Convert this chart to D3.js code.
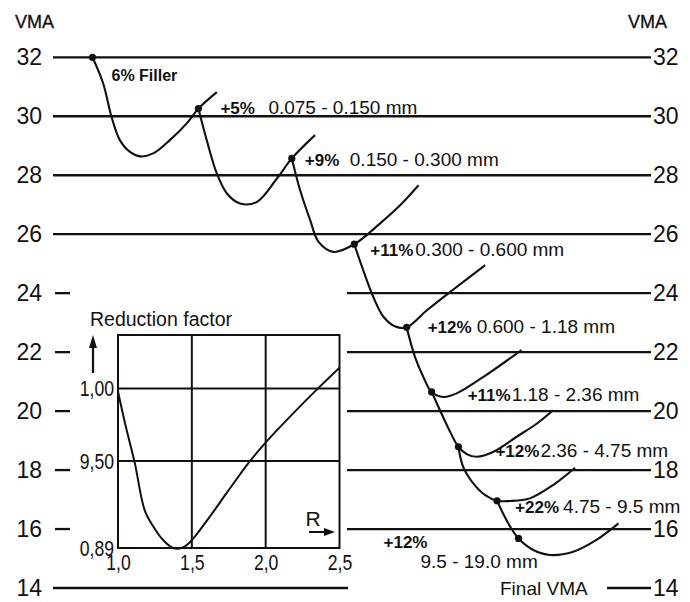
<!DOCTYPE html>
<html>
<head>
<meta charset="utf-8">
<script src="https://cdn.jsdelivr.net/npm/d3@7"></script>
<style>
  body { margin: 0; background: #fff; }
  svg { display: block; }
  text { font-family: "Liberation Sans", Arial, Helvetica, sans-serif; fill: #111; }
</style>
</head>
<body>
<svg id="chart" width="690" height="602"></svg>
<script>
// ---- VMA gridlines ----
const vmaTicks   = [32, 30, 28, 26, 24, 22, 20, 18, 16, 14];
const fullLines  = [32, 30, 28, 26];          // lines across the whole width
const splitLines = [24, 22, 20, 18, 16];      // short stub left, segment right of the inset

// ---- Blending curves: x = mixing progress (0-100), y = VMA ----
const step1X   = [6.3, 8.1, 9.5, 10.9, 12.6, 14.3, 16.5, 19.3, 22.1, 24.1, 27.2];
const step1VMA = [32.0, 31.11, 29.98, 29.19, 28.79, 28.64, 28.74, 29.19, 29.75, 30.26, 30.82];
const step2X   = [24.1, 25.5, 27.2, 28.9, 31.1, 33.9, 37.3, 39.8, 43.7];
const step2VMA = [30.26, 29.19, 28.06, 27.38, 27.04, 27.09, 27.89, 28.57, 29.36];
const step3X   = [39.8, 41.2, 42.9, 44.3, 46.8, 50.3, 54.6, 58.0, 61.1];
const step3VMA = [28.57, 27.49, 26.47, 25.74, 25.40, 25.66, 26.36, 26.98, 27.66];
const step4X   = [50.3, 51.8, 53.5, 55.2, 57.1, 59.1, 62.5, 66.4, 72.3];
const step4VMA = [25.66, 24.78, 23.87, 23.20, 22.88, 22.84, 23.42, 24.04, 24.95];
const step5X   = [59.1, 60.5, 61.9, 63.3, 65.3, 67.5, 72.0, 78.4];
const step5VMA = [22.84, 21.84, 21.16, 20.65, 20.48, 20.60, 21.16, 22.07];
const step6X   = [63.3, 64.7, 66.4, 67.8, 69.2, 70.9, 73.7, 77.6, 81.0, 83.7];
const step6VMA = [20.65, 20.03, 19.30, 18.79, 18.54, 18.45, 18.62, 19.13, 19.58, 20.03];
const step7X   = [67.8, 68.6, 70.3, 72.3, 74.3, 76.5, 79.8, 83.7, 87.4];
const step7VMA = [18.79, 18.11, 17.55, 17.15, 16.96, 16.95, 17.04, 17.49, 18.08];
const step8X   = [74.3, 75.3, 76.5, 77.9, 80.4, 83.2, 87.1, 91.0, 94.7];
const step8VMA = [16.96, 16.53, 16.08, 15.68, 15.29, 15.12, 15.23, 15.63, 16.19];

// ---- Blend points (VMA after each addition) ----
const pointX   = [6.3, 24.1, 39.8, 50.3, 59.1, 63.3, 67.8, 74.3, 77.9];
const pointVMA = [32.0, 30.26, 28.57, 25.66, 22.84, 20.65, 18.79, 16.96, 15.68];

// ---- Fraction annotations ----
const addLabels  = ["6% Filler", "+5%", "+9%", "+11%", "+12%", "+11%", "+12%", "+22%", "+12%"];
const sizeLabels = ["", "0.075 - 0.150 mm", "0.150 - 0.300 mm", "0.300 - 0.600 mm",
                    "0.600 - 1.18 mm", "1.18 - 2.36 mm", "2.36 - 4.75 mm", "4.75 - 9.5 mm",
                    "9.5 - 19.0 mm"];

// ---- Inset: reduction factor vs R ----
const insetR      = [1.0, 1.05, 1.113, 1.181, 1.238, 1.305, 1.373, 1.43, 1.487, 1.622, 1.736, 1.883, 2.007, 2.211, 2.358, 2.5];
const insetFactor = [0.998, 0.975, 0.949, 0.916, 0.905, 0.8955, 0.890, 0.890, 0.894, 0.9117, 0.928, 0.9486, 0.9636, 0.9855, 1.0005, 1.0144];
const insetXTicks  = [1.0, 1.5, 2.0, 2.5];
const insetXLabels = ["1,0", "1,5", "2,0", "2,5"];
const insetYTicks  = [0.89, 0.95, 1.00];
const insetYLabels = ["0,89", "9,50", "1,00"];

// =====================================================================
const svg = d3.select("#chart");
const ink = "#111";

const x = d3.scaleLinear().domain([0, 100]).range([55, 650]);
const y = d3.scaleLinear().domain([14, 32]).range([588, 57.3]);

const gridLeft = 53, gridRight = 651;
const insetRight = 347;

// gridlines
const grid = svg.append("g").attr("stroke", ink).attr("stroke-width", 2.3);
fullLines.forEach(v => grid.append("line")
  .attr("x1", gridLeft).attr("x2", gridRight).attr("y1", y(v)).attr("y2", y(v)));
splitLines.forEach(v => {
  grid.append("line").attr("x1", 55).attr("x2", 70).attr("y1", y(v)).attr("y2", y(v));
  grid.append("line").attr("x1", insetRight).attr("x2", gridRight).attr("y1", y(v)).attr("y2", y(v));
});
grid.append("line").attr("x1", gridLeft).attr("x2", 348).attr("y1", y(14)).attr("y2", y(14));
grid.append("line").attr("x1", 607).attr("x2", gridRight).attr("y1", y(14)).attr("y2", y(14));

// VMA axes on both sides
function styleAxis(g, size) {
  g.select(".domain").remove();
  g.selectAll(".tick line").remove();
  g.selectAll("text").attr("font-size", size).attr("fill", ink)
    .style("font-family", '"Liberation Sans", Arial, sans-serif');
}
svg.append("g").attr("transform", `translate(${gridLeft},0)`)
  .call(d3.axisLeft(y).tickValues(vmaTicks).tickSize(0).tickPadding(11).tickFormat(d3.format("d")))
  .call(g => styleAxis(g, 23));
svg.append("g").attr("transform", `translate(${gridRight},0)`)
  .call(d3.axisRight(y).tickValues(vmaTicks).tickSize(0).tickPadding(2).tickFormat(d3.format("d")))
  .call(g => styleAxis(g, 23));

svg.append("text").attr("x", 15).attr("y", 28).attr("font-size", 18).attr("stroke", ink).attr("stroke-width", 0.3).text("VMA");
svg.append("text").attr("x", 628).attr("y", 28).attr("font-size", 18).attr("stroke", ink).attr("stroke-width", 0.3).text("VMA");
svg.append("text").attr("x", 500).attr("y", y(14) + 6.5).attr("font-size", 19).text("Final VMA");

// blending curves
const line = d3.line()
  .x(d => x(d[0])).y(d => y(d[1]))
  .curve(d3.curveCatmullRom.alpha(0.5));
const steps = [
  [step1X, step1VMA], [step2X, step2VMA], [step3X, step3VMA], [step4X, step4VMA],
  [step5X, step5VMA], [step6X, step6VMA], [step7X, step7VMA], [step8X, step8VMA]
];
svg.append("g").selectAll("path").data(steps).join("path")
  .attr("d", s => line(d3.zip(s[0], s[1])))
  .attr("fill", "none").attr("stroke", ink).attr("stroke-width", 2.1)
  .attr("stroke-linejoin", "round");

// blend points
svg.append("g").selectAll("circle").data(d3.zip(pointX, pointVMA)).join("circle")
  .attr("cx", d => x(d[0])).attr("cy", d => y(d[1])).attr("r", 3.6).attr("fill", ink);

// annotation placement relative to each point: [dx add, baseline dy, dx size]
const labelOffsets = [
  [19, 24, 0], [22, 5, 70], [13, 8, 58], [16, 12, 61], [21, 6, 70],
  [36, 9, 80], [37, 10, 82], [18, 12, 66], [-135, 10, -98]
];
const ann = svg.append("g");
labelOffsets.forEach((o, i) => {
  const px = x(pointX[i]), py = y(pointVMA[i]);
  ann.append("text").attr("x", px + o[0]).attr("y", py + o[1])
    .attr("font-size", i === 0 ? 16 : 17).attr("font-weight", "bold").text(addLabels[i]);
  if (sizeLabels[i]) {
    const sy = i === 8 ? py + 30 : py + o[1];
    ann.append("text").attr("x", px + o[2]).attr("y", sy)
      .attr("font-size", 19).text(sizeLabels[i]);
  }
});

// ---- Inset chart ----
const ix = d3.scaleLinear().domain([1.0, 2.5]).range([118, 339.5]);
const iy = d3.scaleLinear().domain([0.89, 1.037]).range([548, 335]);
const inset = svg.append("g");

inset.append("g").attr("stroke", ink).attr("stroke-width", 2)
  .call(g => {
    g.selectAll(".v").data(insetXTicks.slice(1, -1)).join("line").attr("class", "v")
      .attr("x1", d => ix(d)).attr("x2", d => ix(d)).attr("y1", iy.range()[1]).attr("y2", iy.range()[0]);
    g.selectAll(".h").data(insetYTicks.slice(1)).join("line").attr("class", "h")
      .attr("y1", d => iy(d)).attr("y2", d => iy(d)).attr("x1", ix.range()[0]).attr("x2", ix.range()[1]);
  });
inset.append("rect")
  .attr("x", ix.range()[0]).attr("y", iy.range()[1])
  .attr("width", ix.range()[1] - ix.range()[0]).attr("height", iy.range()[0] - iy.range()[1])
  .attr("fill", "none").attr("stroke", ink).attr("stroke-width", 2);

inset.append("path")
  .attr("d", d3.line().x(d => ix(d[0])).y(d => iy(d[1])).curve(d3.curveCatmullRom.alpha(0.5))(d3.zip(insetR, insetFactor)))
  .attr("fill", "none").attr("stroke", ink).attr("stroke-width", 2);

// inset axes, condensed numerals
function styleInsetAxis(g) {
  g.select(".domain").remove();
  g.selectAll("text").attr("font-size", 22).attr("fill", ink)
    .attr("transform", "scale(0.8,1)")
    .style("font-family", '"Liberation Sans", Arial, sans-serif');
}
inset.append("g").attr("transform", `translate(0,${iy.range()[0] + 1})`)
  .call(d3.axisBottom(ix).tickValues(insetXTicks).tickSize(0).tickPadding(5)
    .tickFormat((d, i) => insetXLabels[i]))
  .call(styleInsetAxis);
inset.append("g").attr("transform", `translate(${ix.range()[0]},0)`)
  .call(d3.axisLeft(iy).tickValues(insetYTicks).tickSize(0).tickPadding(5)
    .tickFormat((d, i) => insetYLabels[i]))
  .call(styleInsetAxis);

// inset axis titles with arrows
inset.append("text").attr("x", 90).attr("y", 326).attr("font-size", 19.5).text("Reduction factor");
inset.append("line").attr("x1", 93).attr("x2", 93).attr("y1", 373).attr("y2", 345)
  .attr("stroke", ink).attr("stroke-width", 2.2);
inset.append("path").attr("d", "M93,335 L89,348 L97,348 Z").attr("fill", ink);

inset.append("text").attr("x", 313).attr("y", 526).attr("font-size", 21).attr("text-anchor", "middle").text("R");
inset.append("line").attr("x1", 309).attr("x2", 326).attr("y1", 532).attr("y2", 532)
  .attr("stroke", ink).attr("stroke-width", 2);
inset.append("path").attr("d", "M335,532 L324,528 L324,536 Z").attr("fill", ink);
</script>
</body>
</html>
